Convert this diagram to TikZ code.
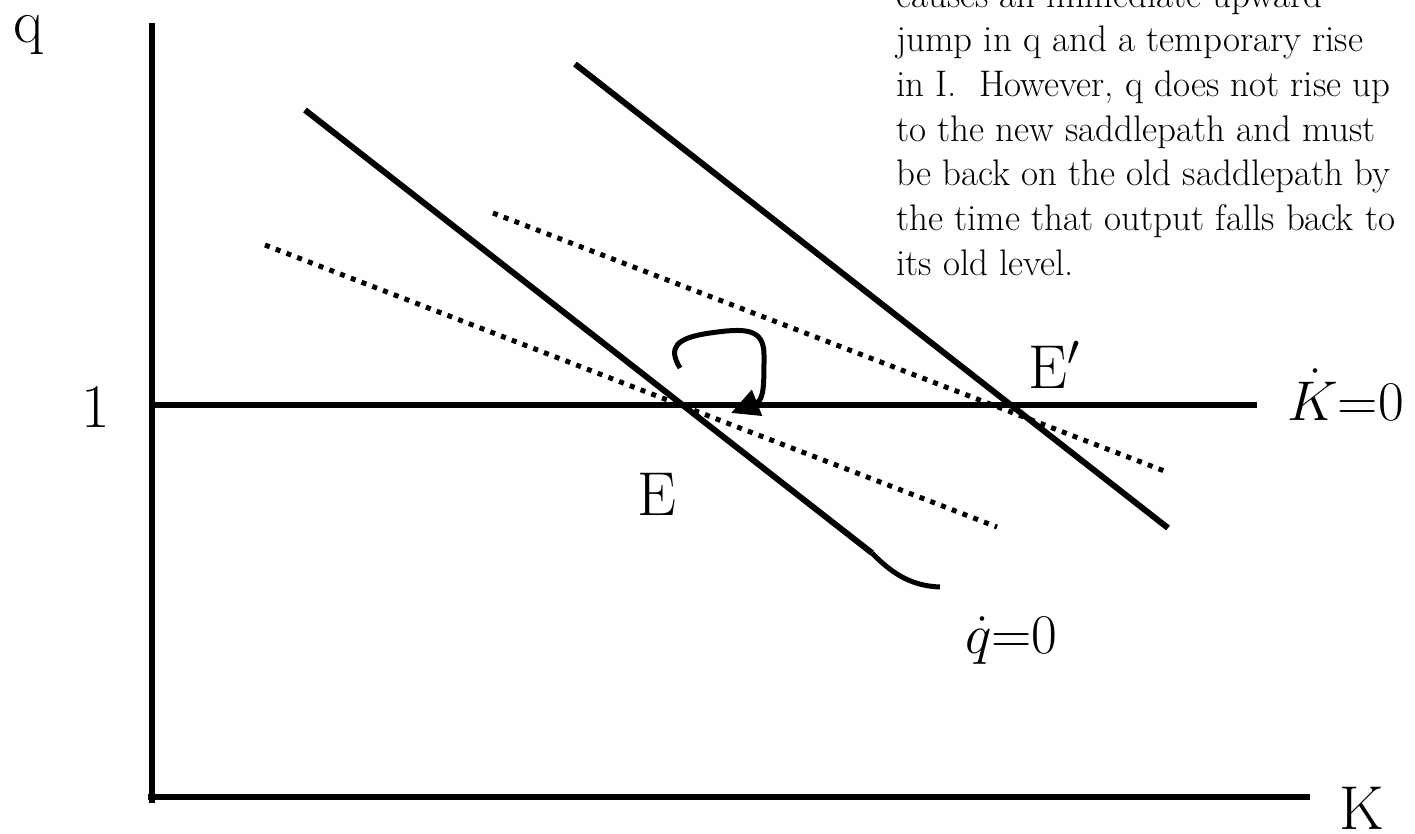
\RequirePackage{fix-cm}
\documentclass[tikz,border=0pt]{standalone}
\usetikzlibrary{arrows.meta}

\begin{document}
\begin{tikzpicture}[x=1pt,y=-1pt,
    heavy/.style={line width=6pt},
    dotline/.style={line width=5pt,dash pattern=on 5pt off 6.5pt},
    lbl/.style={font=\fontsize{62}{62}\selectfont,inner sep=0pt,anchor=base},
    eqlbl/.style={font=\fontsize{56}{56}\selectfont,inner sep=0pt,anchor=base west},
    note/.style={font=\fontsize{37}{44}\selectfont,inner sep=0pt,anchor=base west}]
    \useasboundingbox (0,0) rectangle (1415,833);
    \clip (0,0) rectangle (1415,833);

    % axes
    \coordinate (qtop) at (152,23);
    \coordinate (qbot) at (152,803);
    \coordinate (Kleft) at (148,797);
    \coordinate (Kright) at (1310,797);
    \draw [heavy] (qbot) -- (qtop);
    \draw [heavy] (Kleft) -- (Kright);

    % Kdot = 0
    \coordinate (one) at (155,405);
    \coordinate (Kdot) at (1257,405);
    \draw [heavy] (one) -- (Kdot);

    % saddlepaths, old and new
    \coordinate (sa) at (305,110);
    \coordinate (sb) at (872,553);
    \coordinate (sc) at (940,587);
    \draw [heavy] (sa) -- (sb);
    \draw [line width=5pt] (sb) .. controls (895,577) and (915,586) .. (sc);

    \coordinate (na) at (575,64);
    \coordinate (nb) at (1168,528);
    \draw [heavy] (na) -- (nb);

    % dotted paths
    \coordinate (da) at (265,245);
    \coordinate (db) at (997,527);
    \draw [dotline] (da) -- (db);

    \coordinate (ea) at (493,213);
    \coordinate (eb) at (1167,472);
    \draw [dotline] (ea) -- (eb);

    % loop of q
    \coordinate (la) at (680,368);
    \coordinate (lb) at (731,413);
    \draw [line width=5pt,-{Triangle[length=28pt,width=27pt]}] (la)
        .. controls (668,348) and (675,338) .. (710,333)
        .. controls (745,328) and (764,328) .. (764,355)
        .. controls (764,385) and (764,400) .. (lb);

    % labels
    \node [lbl] (qlab) at (29,42) {q};
    \node [lbl] (onelab) at (96,427) {1};
    \node [lbl] (Klab) at (1362,829) {K};
    \node [lbl] (Elab) at (657,515) {E};
    \node [lbl,anchor=base west] (Enew) at (1028,388) {E$'$};
    \node [eqlbl] (Kdotlab) at (1287,420) {$\dot{K}{=}0$};
    \node [eqlbl] (qdotlab) at (965,653) {$\dot{q}{=}0$};

    % note
    \foreach \txt [count=\i] in {causes an immediate upward,
        jump in q and a temporary rise,
        {in I.\ \ However, q does not rise up},
        to the new saddlepath and must,
        be back on the old saddlepath by,
        the time that output falls back to,
        its old level.}
        \node [note] (note\i) at (896,{7+44.7*(\i-1)}) {\txt};
\end{tikzpicture}
\end{document}
